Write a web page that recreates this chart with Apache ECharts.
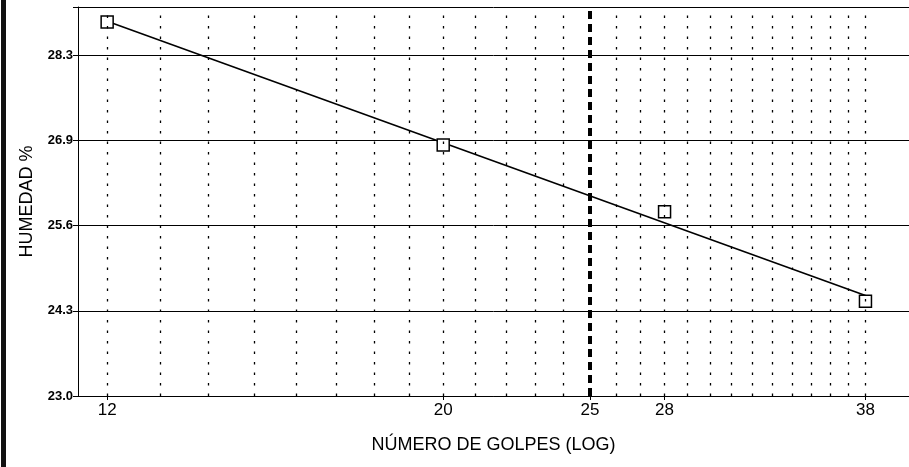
<!DOCTYPE html>
<html>
<head>
<meta charset="utf-8">
<style>
  html, body { margin: 0; padding: 0; background: #fff; }
  #chart { width: 909px; height: 467px; }
</style>
<script src="https://cdn.jsdelivr.net/npm/echarts@6/dist/echarts.min.js"></script>
</head>
<body>
<div id="chart"></div>
<script>
// Measured points (número de golpes, humedad %)
var golpes = [12, 20, 28, 38];
var humedad = [28.77, 26.87, 25.84, 24.46];
// Trend line end points
var trendGolpes = [12, 38];
var trendHumedad = [28.78, 24.55];
// Vertical dotted grid lines (log scale, every integer)
var gridGolpes = [12, 13, 14, 15, 16, 17, 18, 19, 20, 21, 22, 23, 24, 26, 27, 28, 29, 30, 31, 32, 33, 34, 35, 36, 37, 38];
// 25-blow reference line
var refGolpes = [25];
// Axis tick labels
var xTickValues = [12, 20, 25, 28, 38];
var yTickLabels = ['23.0', '24.3', '25.6', '26.9', '28.3'];

var chart = echarts.init(document.getElementById('chart'));
var font = '"Liberation Sans", Arial, sans-serif';

var gridLineData = gridGolpes.map(function (v) { return { xAxis: v }; });
var refLineData = refGolpes.map(function (v) {
  return { xAxis: v, lineStyle: { color: '#000', width: 4, type: [8, 5] } };
});

chart.setOption({
  animation: false,
  backgroundColor: '#fff',
  grid: { left: 78, top: 7, right: 0, bottom: 71 },
  graphic: [{
    type: 'rect', left: 1, top: 0,
    shape: { width: 5, height: 467 },
    style: { fill: '#111' }, silent: true
  }],
  xAxis: {
    type: 'log',
    min: 11.48, max: 40.6,
    name: 'NÚMERO DE GOLPES (LOG)',
    nameLocation: 'middle',
    nameGap: 40,
    nameTextStyle: { fontFamily: font, fontSize: 18, color: '#000' },
    axisLine: { show: true, lineStyle: { color: '#000', width: 1 } },
    axisTick: { show: true, customValues: xTickValues, length: 4, lineStyle: { color: '#000' } },
    axisLabel: {
      show: true, customValues: xTickValues, margin: 6,
      fontFamily: font, fontSize: 17, color: '#000',
      formatter: function (v) { return String(Math.round(v)); }
    },
    splitLine: { show: false },
    minorTick: { show: false },
    minorSplitLine: { show: false }
  },
  yAxis: {
    type: 'value',
    min: 23, max: 29, interval: 1.3145,
    name: 'HUMEDAD %',
    nameLocation: 'middle',
    nameGap: 42,
    nameTextStyle: { fontFamily: font, fontSize: 18, color: '#000' },
    axisLine: { show: true, lineStyle: { color: '#000', width: 1 } },
    axisTick: { show: true, length: 5, lineStyle: { color: '#000' } },
    axisLabel: {
      margin: 5, fontFamily: font, fontSize: 13, fontWeight: 'bold', color: '#000',
      formatter: function (v, i) { return yTickLabels[i] !== undefined ? yTickLabels[i] : ''; }
    },
    splitLine: { show: true, lineStyle: { color: '#000', width: 1 } }
  },
  series: [
    {
      type: 'line',
      silent: true,
      data: [],
      markLine: {
        silent: true,
        symbol: ['none', 'none'],
        label: { show: false },
        lineStyle: { color: '#000', width: 1.3, type: [2.5, 8] },
        data: gridLineData.concat(refLineData)
      }
    },
    {
      type: 'line',
      silent: true,
      symbol: 'none',
      lineStyle: { color: '#000', width: 1.6 },
      data: trendGolpes.map(function (g, i) { return [g, trendHumedad[i]]; }),
      z: 3
    },
    {
      type: 'scatter',
      symbol: 'rect',
      symbolSize: 12,
      itemStyle: { color: '#fff', borderColor: '#000', borderWidth: 1.5, opacity: 1 },
      data: golpes.map(function (g, i) { return [g, humedad[i]]; }),
      z: 4
    }
  ]
});
</script>
</body>
</html>
